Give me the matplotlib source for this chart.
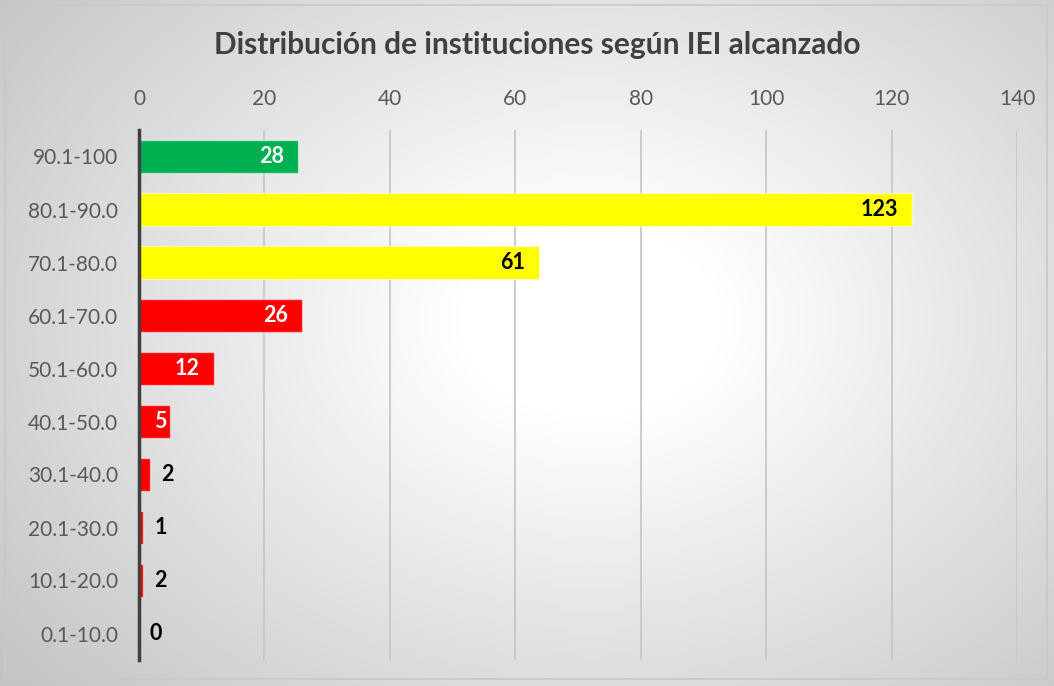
import numpy as np
import matplotlib.pyplot as plt
from matplotlib.patches import Rectangle

# IEI ranges, bottom to top as drawn
ranges = ["0.1-10.0", "10.1-20.0", "20.1-30.0", "30.1-40.0", "40.1-50.0",
          "50.1-60.0", "60.1-70.0", "70.1-80.0", "80.1-90.0", "90.1-100"]
# bar lengths as drawn in the picture
bar_len = [0, 0.7, 0.7, 1.7, 4.9, 11.9, 26, 63.8, 123.3, 25.3]
# numbers printed on the bars
shown = [0, 2, 1, 2, 5, 12, 26, 61, 123, 28]
colors = ["#ff0000"] * 7 + ["#ffff00", "#ffff00", "#00b050"]
xticks = [0, 20, 40, 60, 80, 100, 120, 140]

W, H = 1054, 686
fig = plt.figure(figsize=(W / 100, H / 100), dpi=100)
plt.rcParams["font.family"] = ["Lato", "DejaVu Sans"]

# radial gradient background
bg = fig.add_axes([0, 0, 1, 1])
yy, xx = np.mgrid[0:H, 0:W]
r = np.hypot((xx - 590) / 650, (yy - 320) / 480)
shade = np.clip(1 - 0.24 * np.clip(r - 0.2, 0, None), 0.74, 1)
bg.imshow(np.dstack([shade] * 3), extent=[0, W, H, 0], aspect="auto")
bg.add_patch(Rectangle((5, 5), W - 12, H - 12, fill=False, ec="#c8c8c8", lw=1.2))
bg.set_xlim(0, W)
bg.set_ylim(H, 0)
bg.axis("off")

ax = fig.add_axes([139 / W, 1 - 660 / H, 878 / W, 530 / H])
ax.patch.set_alpha(0)
y = np.arange(len(ranges))
bars = ax.barh(y, bar_len, height=0.61, color=colors,
               edgecolor=(1, 1, 1, 0.5), linewidth=1, zorder=3)

ax.set_xlim(0, 140)
ax.set_ylim(-0.5, len(ranges) - 0.5)
ax.set_xticks(xticks)
ax.set_yticks(y)
ax.set_yticklabels(ranges)
ax.xaxis.tick_top()
ax.tick_params(axis="x", length=0, pad=15, labelsize=15, labelcolor="#595959")
ax.tick_params(axis="y", length=0, pad=15, labelsize=15, labelcolor="#595959")
ax.grid(axis="x", color="#c4c4c4", lw=1.2, zorder=0)
for s in ["top", "right", "bottom"]:
    ax.spines[s].set_visible(False)
ax.spines["left"].set_color("#404040")
ax.spines["left"].set_linewidth(2.5)
ax.spines["left"].set_zorder(4)

px = 878 / 140
for yi, v, lab, c in zip(y, bar_len, shown, colors):
    if v * px > 25:
        off = -14 if v * px > 60 else -3
        tc = "black" if c == "#ffff00" else "white"
        ax.annotate(str(lab), (v, yi), xytext=(off * 0.72, 0), textcoords="offset points",
                    ha="right", va="center", fontsize=15.5, fontweight="bold", color=tc, zorder=5)
    else:
        ax.annotate(str(lab), (v, yi), xytext=(11 * 0.72, 0), textcoords="offset points",
                    ha="left", va="center", fontsize=15.5, fontweight="bold", color="black", zorder=5)

fig.text(537 / W, 1 - 45 / H, "Distribución de instituciones según IEI alcanzado",
         ha="center", va="center", fontsize=21.5, fontweight="bold", color="#404040")

fig.savefig("out.png", dpi=100)
